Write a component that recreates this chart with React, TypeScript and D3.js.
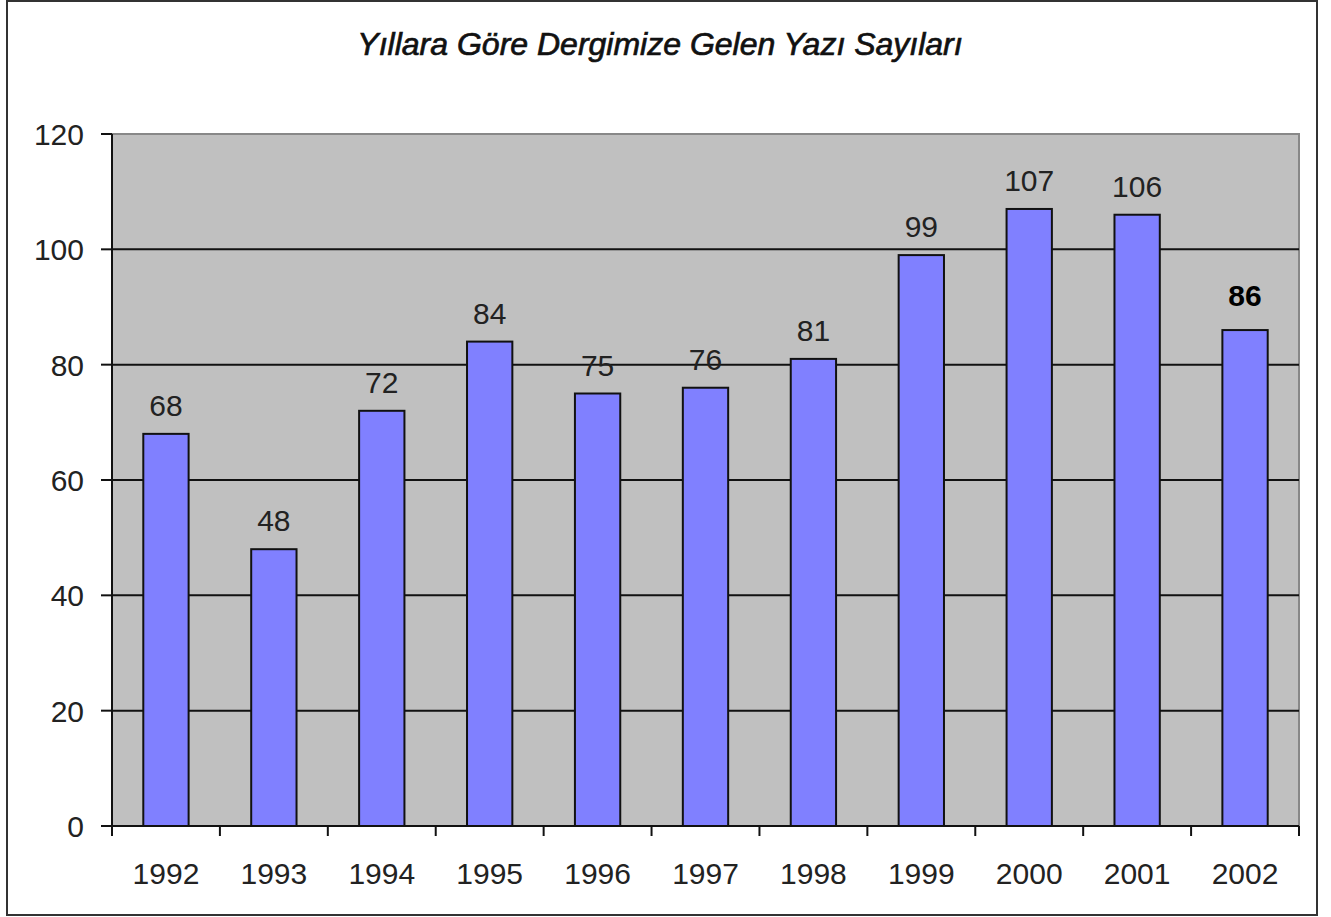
import React from "react";
import * as d3 from "d3";

const years = ["1992","1993","1994","1995","1996","1997","1998","1999","2000","2001","2002"];
const values = [68, 48, 72, 84, 75, 76, 81, 99, 107, 106, 86];
const yTicks = [0, 20, 40, 60, 80, 100, 120];
const title = "Yıllara Göre Dergimize Gelen Yazı Sayıları";

export default function App() {
  const W = 1331, H = 917;
  const left = 112, right = 1299, top = 134, bottom = 826;
  const x = d3.scaleBand().domain(years).range([left, right]).paddingInner(0).paddingOuter(0);
  const y = d3.scaleLinear().domain([0, 120]).range([bottom, top]);
  const bw = x.bandwidth() * 0.42;
  const font = "'Liberation Sans', Arial, sans-serif";
  return (
    <svg width={W} height={H} style={{ position: "absolute", left: 0, top: 0, background: "#fff" }}>
      <rect x={7} y={1} width={1310} height={914} fill="#fff" stroke="#333" strokeWidth={2} />
      <text x={660} y={55} textAnchor="middle" fontFamily={font} fontStyle="italic" fontSize={32} fill="#111" stroke="#111" strokeWidth={0.7}>{title}</text>
      <rect x={left} y={top} width={right - left} height={bottom - top} fill="#c0c0c0" stroke="#888" strokeWidth={2} />
      {yTicks.filter(t => t > 0 && t < 120).map(t => (
        <line key={t} x1={left} x2={right} y1={y(t)} y2={y(t)} stroke="#111" strokeWidth={2} />
      ))}
      {years.map((yr, i) => (
        <g key={yr}>
          <rect x={x(yr)! + x.bandwidth() / 2 - bw / 2} y={y(values[i])} width={bw} height={bottom - y(values[i])} fill="#8080ff" stroke="#111" strokeWidth={2} />
          <text x={x(yr)! + x.bandwidth() / 2} y={y(values[i]) - (i === 10 ? 24 : 18)} textAnchor="middle" fontFamily={font} fontSize={30} fill={i === 10 ? "#000" : "#222"} fontWeight={i === 10 ? "bold" : "normal"}>{values[i]}</text>
          <text x={x(yr)! + x.bandwidth() / 2} y={884} textAnchor="middle" fontFamily={font} fontSize={30} fill="#222">{yr}</text>
        </g>
      ))}
      <line x1={left} x2={left} y1={top} y2={bottom} stroke="#111" strokeWidth={2} />
      <line x1={left} x2={right} y1={bottom} y2={bottom} stroke="#111" strokeWidth={2} />
      {yTicks.map(t => (
        <g key={t}>
          <line x1={left - 11} x2={left} y1={y(t)} y2={y(t)} stroke="#111" strokeWidth={2} />
          <text x={84} y={y(t) + 11} textAnchor="end" fontFamily={font} fontSize={30} fill="#222">{t}</text>
        </g>
      ))}
      {[...years.map(yr => x(yr)!), right].map((px, i) => (
        <line key={i} x1={px} x2={px} y1={bottom} y2={bottom + 10} stroke="#111" strokeWidth={2} />
      ))}
    </svg>
  );
}
